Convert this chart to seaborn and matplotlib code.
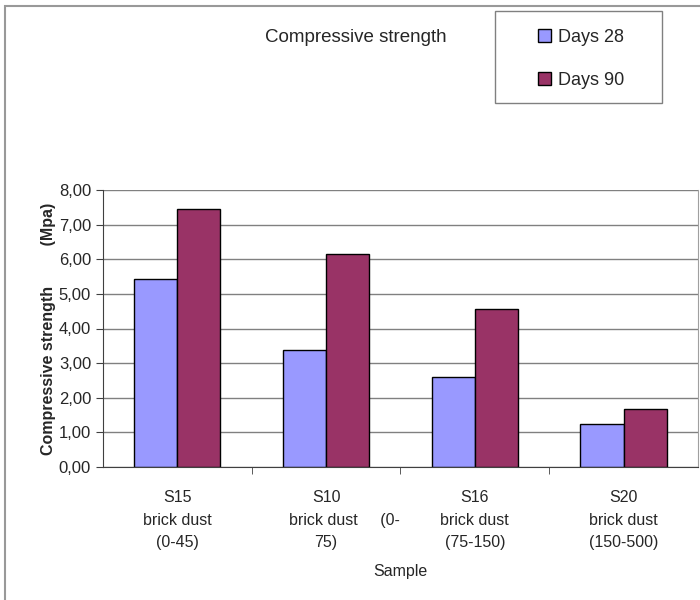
import matplotlib
matplotlib.use("Agg")
import matplotlib.pyplot as plt
from matplotlib.patches import Rectangle
from matplotlib.ticker import FuncFormatter, FixedLocator
import seaborn as sns
import pandas as pd

# data
samples = ["S15", "S10", "S16", "S20"]
tick_labels = ["S15\nbrick dust\n(0-45)",
               "S10\n        brick dust     (0-\n75)",
               "S16\nbrick dust\n(75-150)",
               "S20\nbrick dust\n(150-500)"]
days_28 = [5.42, 3.39, 2.60, 1.24]
days_90 = [7.46, 6.16, 4.56, 1.68]
series = ["Days 28", "Days 90"]
colors = ["#9999FF", "#993366"]

df = pd.DataFrame({
    "Sample": samples * 2,
    "Age": [series[0]] * 4 + [series[1]] * 4,
    "Strength": days_28 + days_90,
})

sns.set_style("white")
plt.rcParams["font.family"] = ["Liberation Sans", "DejaVu Sans"]

fig = plt.figure(figsize=(7, 6), dpi=100)
ax = fig.add_axes([0.147, 0.222, 0.85, 0.461])

sns.barplot(data=df, x="Sample", y="Strength", hue="Age", palette=colors,
            width=0.58, gap=0, edgecolor="black", linewidth=1,
            saturation=1, ax=ax, legend=False)

ax.set_ylim(0, 8)
ax.set_xlim(-0.5, 3.5)
ax.set_yticks(range(0, 9))
ax.yaxis.set_major_formatter(FuncFormatter(lambda v, p: f"{v:.2f}".replace(".", ",")))
ax.grid(axis="y", color="#808080", linewidth=1)
ax.set_axisbelow(True)

ax.set_xticks(range(4))
ax.set_xticklabels(tick_labels)
for lab in ax.get_xticklabels():
    lab.set_multialignment("center")
    lab.set_linespacing(1.62)
ax.xaxis.set_minor_locator(FixedLocator([0.5, 1.5, 2.5]))
ax.tick_params(axis="x", which="major", length=0, pad=17, labelsize=11.5)
ax.tick_params(axis="x", which="minor", length=5, direction="out", color="#404040", bottom=True)
ax.tick_params(axis="y", length=5, direction="out", color="#404040", left=True, labelsize=12)

ax.spines["top"].set_visible(False)
ax.spines["right"].set_color("#a0a0a0")
ax.spines["left"].set_color("#404040")
ax.spines["bottom"].set_color("#404040")

ax.set_xlabel("Sample", fontsize=11.5, labelpad=10)
ax.set_ylabel("Compressive strength         (Mpa)", fontsize=11.5, fontweight="bold", labelpad=2)

fig.text(0.509, 0.937, "Compressive strength", fontsize=13.5, ha="center", va="center")

# legend box
fig.patches.append(Rectangle((495 / 700, 1 - 103 / 600), 167 / 700, 92 / 600,
                             transform=fig.transFigure, facecolor="white",
                             edgecolor="#808080", linewidth=1))
handles = [Rectangle((0, 0), 1, 1, facecolor=c, edgecolor="black", linewidth=1) for c in colors]
leg = fig.legend(handles, series, loc="center", bbox_to_anchor=(581 / 700, 1 - 59 / 600),
                 frameon=False, fontsize=13,
                 handlelength=0.75, handleheight=0.75, handletextpad=0.35,
                 labelspacing=1.45, borderpad=0, borderaxespad=0)

# outer chart border
fig.patches.append(Rectangle((5 / 700, -0.05), 1.1, 1 - 6 / 600 + 0.05,
                             transform=fig.transFigure, fill=False,
                             edgecolor="#999999", linewidth=1.5))

fig.savefig("out.png", dpi=100)
